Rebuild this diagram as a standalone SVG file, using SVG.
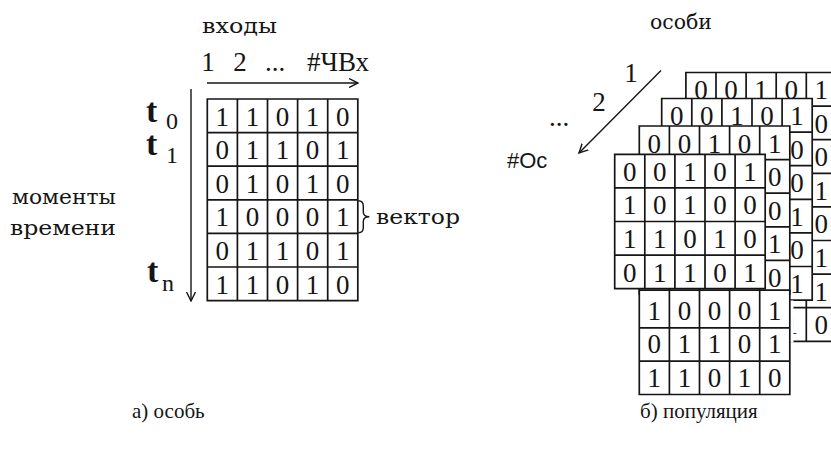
<svg xmlns="http://www.w3.org/2000/svg" width="831" height="460" viewBox="0 0 831 460">
<style>
.bg{fill:#fff}
.gl{fill:#fff;stroke:#151515;stroke-width:1.7}
.d{font-family:"Liberation Serif","Times New Roman",serif;font-size:27px;fill:#151515;text-anchor:middle}
.m{font-family:"DejaVu Serif","Liberation Serif",serif;font-size:20px;fill:#151515}
.s{font-family:"Liberation Serif","Times New Roman",serif;fill:#151515}
.a{fill:none;stroke:#151515;stroke-width:1.4}
</style>
<defs>
<marker id="ah" viewBox="0 0 10 10" refX="9" refY="5" markerWidth="10" markerHeight="10" markerUnits="userSpaceOnUse" orient="auto">
<path d="M0,0.5 L9,5 L0,9.5" fill="none" stroke="#151515" stroke-width="1.4"/>
</marker>
</defs>
<rect class="bg" x="0" y="0" width="831" height="460"/>

<g id="connectors">
<line class="a" x1="207" y1="83" x2="358" y2="83" marker-end="url(#ah)"/>
<line class="a" x1="191" y1="89" x2="191" y2="301" marker-end="url(#ah)"/>
<line class="a" x1="661" y1="70.5" x2="579" y2="153" marker-end="url(#ah)"/>
<path class="a" d="M358.3,200.7 Q363.3,200.7 363.3,206 V212 Q363.3,216.7 369.3,216.7 Q363.3,216.7 363.3,221.5 V227.5 Q363.3,232.7 358.3,232.7"/>
</g>

<g id="labels-left">
<text class="m" x="202" y="33" textLength="75" lengthAdjust="spacingAndGlyphs">входы</text>
<text class="s" font-size="27" x="208" y="71" text-anchor="middle">1</text>
<text class="s" font-size="27" x="240" y="71" text-anchor="middle">2</text>
<text class="s" font-size="27" x="275" y="71" text-anchor="middle">...</text>
<text class="s" font-size="27" x="338" y="71" text-anchor="middle">#ЧВх</text>
<text class="m" font-size="22" x="12" y="204" textLength="104" lengthAdjust="spacingAndGlyphs">моменты</text>
<text class="m" font-size="22" x="10" y="235" textLength="106" lengthAdjust="spacingAndGlyphs">времени</text>
<text class="m" x="376" y="224" textLength="84" lengthAdjust="spacingAndGlyphs">вектор</text>
<text class="s" font-size="34" font-weight="bold" x="146" y="122">t</text>
<text class="s" font-size="24" x="166" y="129">0</text>
<text class="s" font-size="34" font-weight="bold" x="146" y="155">t</text>
<text class="s" font-size="24" x="166" y="163">1</text>
<text class="s" font-size="34" font-weight="bold" x="147" y="282">t</text>
<text class="s" font-size="24" x="162" y="291">n</text>
<text class="s" font-size="21" x="132" y="418">а) особь</text>
</g>

<g id="individual" transform="translate(207.3,99)">
<path class="gl" d="M0,0H150.5V201.6H0Z M30.1,0V201.6 M60.2,0V201.6 M90.3,0V201.6 M120.4,0V201.6 M0,33.6H150.5 M0,67.2H150.5 M0,100.8H150.5 M0,134.4H150.5 M0,168H150.5"/>
<text class="d" x="15 45.1 75.2 105.3 135.4" y="26.5">11010</text>
<text class="d" x="15 45.1 75.2 105.3 135.4" y="60.1">01101</text>
<text class="d" x="15 45.1 75.2 105.3 135.4" y="93.7">01010</text>
<text class="d" x="15 45.1 75.2 105.3 135.4" y="127.3">10001</text>
<text class="d" x="15 45.1 75.2 105.3 135.4" y="160.9">01101</text>
<text class="d" x="15 45.1 75.2 105.3 135.4" y="194.5">11010</text>
</g>

<g id="labels-right">
<text class="m" x="650" y="28.5" textLength="62" lengthAdjust="spacingAndGlyphs">особи</text>
<text class="s" font-size="27" x="631" y="81.5" text-anchor="middle">1</text>
<text class="s" font-size="27" x="599" y="111" text-anchor="middle">2</text>
<text class="s" font-size="27" x="559" y="126" text-anchor="middle">...</text>
<text x="507" y="168" font-family="Liberation Sans, Arial, sans-serif" font-size="22" fill="#151515">#Ос</text>
<text class="s" font-size="21" x="640" y="418">б) популяция</text>
</g>

<g id="pop4" transform="translate(685.9,72.5)">
<path class="gl" d="M0,0H150.5V268.8H0Z M30.1,0V268.8 M60.2,0V268.8 M90.3,0V268.8 M120.4,0V268.8 M0,33.6H150.5 M0,67.2H150.5 M0,100.8H150.5 M0,134.4H150.5 M0,168H150.5 M0,201.6H150.5 M0,235.2H150.5"/>
<text class="d" x="15 45.1 75.2 105.3 135.4" y="26.5">00101</text>
<text class="d" x="15 45.1 75.2 105.3 135.4" y="60.1">10100</text>
<text class="d" x="15 45.1 75.2 105.3 135.4" y="93.7">11010</text>
<text class="d" x="15 45.1 75.2 105.3 135.4" y="127.3">01101</text>
<text class="d" x="15 45.1 75.2 105.3 135.4" y="160.9">01010</text>
<text class="d" x="15 45.1 75.2 105.3 135.4" y="194.5">10001</text>
<text class="d" x="15 45.1 75.2 105.3 135.4" y="228.1">01101</text>
<text class="d" x="15 45.1 75.2 105.3 135.4" y="261.7">11010</text>
</g>

<g id="pop3" transform="translate(661.7,98.5)">
<path class="gl" d="M0,0H150.5V201.6H0Z M30.1,0V201.6 M60.2,0V201.6 M90.3,0V201.6 M120.4,0V201.6 M0,33.6H150.5 M0,67.2H150.5 M0,100.8H150.5 M0,134.4H150.5 M0,168H150.5"/>
<text class="d" x="15 45.1 75.2 105.3 135.4" y="26.5">00101</text>
<text class="d" x="15 45.1 75.2 105.3 135.4" y="60.1">10100</text>
<text class="d" x="15 45.1 75.2 105.3 135.4" y="93.7">11010</text>
<text class="d" x="15 45.1 75.2 105.3 135.4" y="127.3">01101</text>
<text class="d" x="15 45.1 75.2 105.3 135.4" y="160.9">01010</text>
<text class="d" x="15 45.1 75.2 105.3 135.4" y="194.5">10001</text>
</g>

<rect class="bg" x="790" y="300.5" width="3.5" height="42"/>

<g id="pop2" transform="translate(639.3,126)">
<path class="gl" d="M0,0H150.5V168H0Z M30.1,0V168 M60.2,0V168 M90.3,0V168 M120.4,0V168 M0,33.6H150.5 M0,67.2H150.5 M0,100.8H150.5 M0,134.4H150.5"/>
<text class="d" x="15 45.1 75.2 105.3 135.4" y="26.5">00101</text>
<text class="d" x="15 45.1 75.2 105.3 135.4" y="60.1">10100</text>
<text class="d" x="15 45.1 75.2 105.3 135.4" y="93.7">11010</text>
<text class="d" x="15 45.1 75.2 105.3 135.4" y="127.3">01101</text>
<text class="d" x="15 45.1 75.2 105.3 135.4" y="160.9">01010</text>
</g>

<g id="pop1" transform="translate(614.7,154.3)">
<path class="gl" d="M0,0H150.5V134.4H0Z M30.1,0V134.4 M60.2,0V134.4 M90.3,0V134.4 M120.4,0V134.4 M0,33.6H150.5 M0,67.2H150.5 M0,100.8H150.5"/>
<text class="d" x="15 45.1 75.2 105.3 135.4" y="26.5">00101</text>
<text class="d" x="15 45.1 75.2 105.3 135.4" y="60.1">10100</text>
<text class="d" x="15 45.1 75.2 105.3 135.4" y="93.7">11010</text>
<text class="d" x="15 45.1 75.2 105.3 135.4" y="127.3">01101</text>
</g>

<g id="pop2-lower" transform="translate(639.3,290.2)">
<path class="gl" d="M0,0H150.5V104.3H0Z M30.1,0V104.3 M60.2,0V104.3 M90.3,0V104.3 M120.4,0V104.3 M0,37.6H150.5 M0,71H150.5"/>
<text class="d" x="15 45.1 75.2 105.3 135.4" y="29.8">10001</text>
<text class="d" x="15 45.1 75.2 105.3 135.4" y="63">01101</text>
<text class="d" x="15 45.1 75.2 105.3 135.4" y="96.5">11010</text>
</g>
</svg>
